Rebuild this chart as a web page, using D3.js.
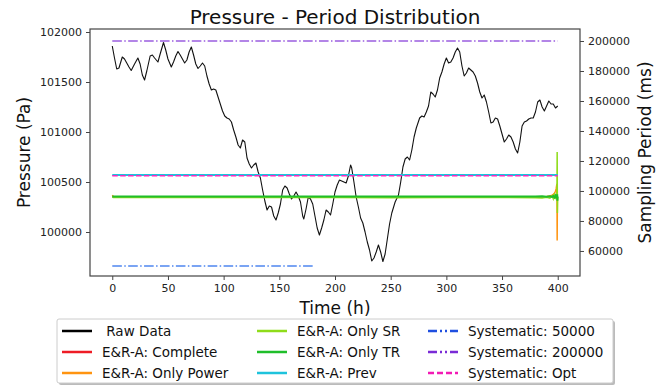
<!DOCTYPE html>
<html>
<head>
<meta charset="utf-8">
<script src="https://cdn.jsdelivr.net/npm/d3@7"></script>
<style>
  html, body { margin: 0; padding: 0; background: #fff; }
  svg { display: block; font-family: "DejaVu Sans", sans-serif; }
</style>
</head>
<body>
<svg id="chart" width="668" height="388"></svg>
<script>
// Raw pressure readings (Pa) against time (h)
const rawTime = [0,2,4,6,9,11,13,15,17,20,23,25,27,29,31,34,36,38,41,43,46,48,50,53,55,57,59,61,63,65,67,69,71,73,75,77,79,81,83,85,87,89,91,93,95,97,99,101,103,105,107,109,111,113,115,117,119,121,123,125,127,129,131,133,135,137,139,141,143,145,147,149,151,153,155,157,159,161,163,165,167,169,171,172,174,176,178,180,182,184,186,188,190,192,194,196,198,200,202,204,206,208,210,212,214,215,217,219,221,223,225,227,229,231,233,235,237,239,241,243,245,247,249,251,254,257,259,261,263,265,267,269,271,273,276,278,280,282,284,286,288,290,292,294,296,298,300,302,304,306,308,310,312,314,316,318,320,322,324,326,328,330,332,334,336,338,340,342,344,346,348,350,352,354,356,358,360,362,364,366,368,370,372,374,376,378,380,382,384,386,388,390,392,394,396,398,400];
const rawPressure = [101860,101740,101630,101640,101750,101730,101690,101650,101615,101680,101740,101680,101570,101520,101610,101760,101770,101740,101700,101780,101895,101820,101730,101650,101700,101760,101805,101770,101730,101690,101720,101800,101850,101770,101680,101635,101660,101690,101660,101560,101480,101420,101430,101420,101350,101280,101210,101160,101140,101130,101100,101020,100950,100870,100840,100920,100900,100740,100680,100640,100670,100690,100600,100540,100420,100310,100220,100260,100250,100160,100120,100190,100280,100420,100460,100440,100380,100330,100360,100400,100360,100300,100160,100130,100230,100350,100330,100280,100160,100040,99970,100040,100120,100220,100200,100170,100280,100400,100470,100520,100510,100500,100490,100560,100670,100640,100500,100350,100250,100140,100090,100000,99900,99820,99710,99740,99800,99870,99800,99705,99780,99930,100080,100190,100300,100370,100500,100650,100730,100750,100720,100820,100950,101040,101140,101160,101150,101200,101260,101400,101380,101350,101420,101540,101600,101680,101740,101690,101700,101740,101800,101840,101800,101660,101560,101590,101640,101620,101600,101560,101490,101400,101340,101370,101300,101200,101090,101100,101140,101130,101060,100980,100900,100930,100970,100950,100900,100830,100790,100900,101060,101100,101110,101130,101140,101140,101200,101300,101320,101250,101210,101260,101310,101280,101280,101240,101260];

// Adaptive sampling periods (ms) against time (h)
const adaptTime     = [0,1,50,100,150,200,250,300,350,380,386,390,393,395,396,397,398,398.6,399.0,399.3,399.5,399.7,399.9,400];
const completePeriod= [96300,96200,96200,96200,96200,96200,96200,96200,96200,96200,96200,96200,96300,96100,96400,96000,96600,97000,98000,99500,96200,96200,96200,96200];
const powerPeriod   = [97200,96300,96000,96000,95900,96000,95900,96000,96000,96000,96100,96300,96700,97200,97800,98500,99800,101500,103500,104800,67000,95500,96000,96000];
const srPeriod      = [95800,95700,95600,95700,95600,95700,95500,95600,95600,95500,95300,95800,95200,96900,94800,97400,94600,97800,94400,98500,126000,85300,95800,95800];
const trPeriod      = [96300,96300,96300,96300,96300,96300,96300,96300,96300,96300,96400,96100,96500,96000,96700,95700,96900,95400,97300,95000,97800,93500,96300,96300];
const prevPeriod    = [110600,110600];
const prevTime      = [0,400];

// Fixed sampling schedules
const sys50000Time  = [0,182];
const sys50000      = [50000,50000];
const sys200000Time = [0,400];
const sys200000     = [200000,200000];
const sysOptTime    = [0,400];
const sysOpt        = [110200,110200];

// Axis ticks
const timeTicks     = [0,50,100,150,200,250,300,350,400];
const pressureTicks = [100000,100500,101000,101500,102000];
const periodTicks   = [60000,80000,100000,120000,140000,160000,180000,200000];

const svg = d3.select("#chart");
const M = {left: 90, right: 580, top: 29, bottom: 276};

const x  = d3.scaleLinear().domain([-20, 420]).range([M.left, M.right]);
const yL = d3.scaleLinear().domain([99560, 102030]).range([M.bottom, M.top]);
const yR = d3.scaleLinear().domain([43300, 208000]).range([M.bottom, M.top]);

svg.append("clipPath").attr("id", "plotclip")
  .append("rect").attr("x", M.left).attr("y", M.top)
  .attr("width", M.right - M.left).attr("height", M.bottom - M.top);

const plot = svg.append("g").attr("clip-path", "url(#plotclip)");

// Pressure trace on the left axis
const rawLine = d3.line().x((d, i) => x(rawTime[i])).y(d => yL(d));
plot.append("path").datum(rawPressure)
  .attr("d", rawLine).attr("fill", "none")
  .attr("stroke", "#111").attr("stroke-width", 1.1).attr("stroke-linejoin", "round");

// Sampling-period series on the right axis
const series = [
  {name: "E&R-A: Complete",   t: adaptTime, v: completePeriod, color: "#ee1c25", dash: null, w: 1.5},
  {name: "E&R-A: Only Power", t: adaptTime, v: powerPeriod,    color: "#ff9410", dash: null, w: 1.5},
  {name: "E&R-A: Only SR",    t: adaptTime, v: srPeriod,       color: "#8fdc1a", dash: null, w: 1.5},
  {name: "E&R-A: Only TR",    t: adaptTime, v: trPeriod,       color: "#1fbe2a", dash: null, w: 2},
  {name: "E&R-A: Prev",       t: prevTime,  v: prevPeriod,     color: "#1ec3dc", dash: null, w: 2},
  {name: "Systematic: 50000", t: sys50000Time,  v: sys50000,   color: "#4f86f0", dash: "9.6,2.4,1.5,2.4", w: 1.5},
  {name: "Systematic: 200000",t: sys200000Time, v: sys200000,  color: "#9b5ee0", dash: "9.6,2.4,1.5,2.4", w: 1.5},
  {name: "Systematic: Opt",   t: sysOptTime,    v: sysOpt,     color: "#f52bbf", dash: "5.5,2.4", w: 1.5}
];

series.forEach(s => {
  const line = d3.line().x((d, i) => x(s.t[i])).y(d => yR(d));
  plot.append("path").datum(s.v)
    .attr("d", line).attr("fill", "none")
    .attr("stroke", s.color).attr("stroke-width", s.w)
    .attr("stroke-dasharray", s.dash);
});

// Axes
const axisStyle = g => {
  g.selectAll("text").attr("font-size", 11).attr("fill", "#222").attr("font-family", "DejaVu Sans");
  g.selectAll("line").attr("stroke", "#444");
  g.select(".domain").remove();
};
svg.append("g").attr("transform", `translate(0,${M.bottom})`)
  .call(d3.axisBottom(x).tickValues(timeTicks).tickSize(4).tickPadding(4).tickFormat(d3.format("d")))
  .call(axisStyle);
svg.append("g").attr("transform", `translate(${M.left},0)`)
  .call(d3.axisLeft(yL).tickValues(pressureTicks).tickSize(4).tickPadding(4).tickFormat(d3.format("d")))
  .call(axisStyle);
svg.append("g").attr("transform", `translate(${M.right},0)`)
  .call(d3.axisRight(yR).tickValues(periodTicks).tickSize(4).tickPadding(4).tickFormat(d3.format("d")))
  .call(axisStyle);

// Frame
svg.append("rect").attr("x", M.left).attr("y", M.top)
  .attr("width", M.right - M.left).attr("height", M.bottom - M.top)
  .attr("fill", "none").attr("stroke", "#444").attr("stroke-width", 1.2);

// Titles
svg.append("text").attr("x", (M.left + M.right) / 2).attr("y", 24)
  .attr("text-anchor", "middle").attr("font-size", 20).attr("fill", "#111")
  .text("Pressure - Period Distribution");
svg.append("text").attr("x", (M.left + M.right) / 2).attr("y", 314)
  .attr("text-anchor", "middle").attr("font-size", 17).attr("fill", "#111")
  .text("Time (h)");
svg.append("text").attr("transform", `translate(30,${(M.top + M.bottom) / 2}) rotate(-90)`)
  .attr("text-anchor", "middle").attr("font-size", 17).attr("fill", "#111")
  .text("Pressure (Pa)");
svg.append("text").attr("transform", `translate(651,${(M.top + M.bottom) / 2}) rotate(-90)`)
  .attr("text-anchor", "middle").attr("font-size", 17).attr("fill", "#111")
  .text("Sampling Period (ms)");

// Legend
const legendItems = [
  {name: " Raw Data", color: "#000", dash: null},
  {name: "E&R-A: Complete", color: "#ee1c25", dash: null},
  {name: "E&R-A: Only Power", color: "#ff9410", dash: null},
  {name: "E&R-A: Only SR", color: "#8fdc1a", dash: null},
  {name: "E&R-A: Only TR", color: "#1fbe2a", dash: null},
  {name: "E&R-A: Prev", color: "#1ec3dc", dash: null},
  {name: "Systematic: 50000", color: "#1f4fe0", dash: "9,3,2,3,2,3"},
  {name: "Systematic: 200000", color: "#7a2bd6", dash: "9,3,2,3,2,3"},
  {name: "Systematic: Opt", color: "#f21ab5", dash: "6,3"}
];
const lg = svg.append("g");
lg.append("rect").attr("x", 59).attr("y", 321).attr("width", 556).attr("height", 64)
  .attr("fill", "#bbb").attr("rx", 2);
lg.append("rect").attr("x", 57).attr("y", 319).attr("width", 556).attr("height", 64)
  .attr("fill", "#fff").attr("stroke", "#ccc").attr("rx", 2);
const colX = [62, 257, 428];
legendItems.forEach((d, i) => {
  const c = Math.floor(i / 3), r = i % 3;
  const yy = 331 + r * 21;
  lg.append("line").attr("x1", colX[c]).attr("x2", colX[c] + 30)
    .attr("y1", yy).attr("y2", yy)
    .attr("stroke", d.color).attr("stroke-width", 2.5).attr("stroke-dasharray", d.dash);
  lg.append("text").attr("x", colX[c] + 40).attr("y", yy + 5)
    .attr("font-size", 13.5).attr("fill", "#111")
    .style("white-space", "pre")
    .text(d.name);
});
</script>
</body>
</html>
